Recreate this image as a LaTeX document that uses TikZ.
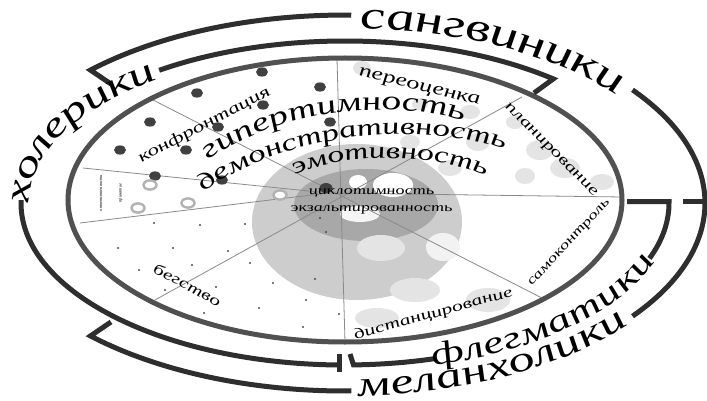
\documentclass[tikz,border=0pt]{standalone}
\usepackage{fontspec}
\setmainfont{Liberation Serif}
\newfontfamily\decofam{Liberation Serif}[FakeStretch=1.45, ItalicFeatures={FakeSlant=-0.18}]
\newcommand{\dec}[1]{\decofam\itshape\fontsize{#1}{#1}\selectfont}
\usetikzlibrary{decorations.text}
\definecolor{ringc}{HTML}{505050}
\definecolor{brk}{HTML}{2E2E2E}
\definecolor{linec}{HTML}{8A8A8A}
\definecolor{dotc}{HTML}{404040}
\definecolor{lg}{HTML}{CDCDCD}
\definecolor{mg}{HTML}{A8A8A8}
\definecolor{bub}{HTML}{E4E4E4}
\tikzset{
  bracket/.style={brk, line width=5pt},
  sector/.style={linec, line width=0.8pt},
  bigdot/.style={fill=dotc},
  donut/.style={draw=gray!60, line width=2.4pt, fill=white},
  smalldot/.style={fill=black!70},
  bubble/.style={fill=bub},
  curvetext/.style={decorate, decoration={text along path, text align=center, raise=#1}},
}
\begin{document}
\begin{tikzpicture}[x=1pt,y=-1pt]
\useasboundingbox (0,0) rectangle (707,401);
\fill[white] (0,0) rectangle (707,401);

% light bubbles in the upper right
\foreach \p/\a/\b in {(362,68)/9/7,(420,104)/8/6,(470,112)/10/7,(515,122)/9/7,(478,142)/12/9,
  (540,150)/14/10,(525,176)/10/8,(565,168)/15/10,(602,182)/12/8,(410,142)/10/7,(450,168)/12/8}
  \fill[bubble] \p ellipse[x radius=\a, y radius=\b];

% central discs
\fill[lg] (357,222) ellipse[x radius=105, y radius=78];
\fill[mg] (366,205) ellipse[x radius=72, y radius=36];
\fill[white] (393,185) ellipse[x radius=20, y radius=12];
\fill[white] (358,182) ellipse[x radius=9, y radius=7];
\fill[white!92!gray] (360,214) ellipse[x radius=20, y radius=8];
\fill[white!90!gray] (443,247) ellipse[x radius=17, y radius=14];
\foreach \p/\a/\b in {(381,248)/24/13,(415,290)/25/12,(488,300)/22/12,(377,318)/22/10}
  \fill[bubble] \p ellipse[x radius=\a, y radius=\b];

% sector lines
\coordinate (C) at (328,193);
\draw[sector] (C) -- (83,168);
\draw[sector] (C) -- (80,223);
\draw[sector] (C) -- (622,197);
\draw[sector] (153,100) -- (542,298);
\draw[sector] (155,300) -- (522,97);
\draw[sector] (337,59) -- (345,342);

% dark dots
\foreach \p in {(262,72),(197,93),(320,87),(263,105),(150,122),(218,127),(120,150),
  (186,150),(155,176),(222,180),(330,122)}
  \fill[bigdot] \p ellipse[x radius=6, y radius=4.6];
\fill[bigdot] (326,188) ellipse[x radius=6.5, y radius=5];
% donuts
\foreach \p in {(150,185),(138,208),(188,203),(280,195)}
  \draw[donut] \p ellipse[x radius=6.5, y radius=4.6];
% small dots
\foreach \p in {(154,223),(200,225),(245,224),(118,248),(173,248),(228,251),(139,270),(192,265),
  (250,263),(165,290),(216,287),(273,283),(315,279),(204,313),(259,308),(306,300),(339,314),
  (303,327),(248,333),(339,342),(326,232),(320,218)}
  \fill[smalldot] \p circle[radius=1.2];

% main ring
\draw[ringc, line width=5pt] (345,200) ellipse[x radius=277, y radius=142];

% brackets: sanguine (outer)
\draw[bracket] (111,84) -- (90.4,70.1) arc[start angle=225, end angle=271, x radius=360, y radius=188];
\draw[bracket] (632.5,89.9) arc[start angle=-37, end angle=37, x radius=360, y radius=188];
\draw[bracket] (683,201) -- (707,201);
% melancholic
\draw[bracket] (345,203) ++(89:360 and 188) arc[start angle=89, end angle=135, x radius=360, y radius=188] -- (111,322);
% choleric
\draw[bracket] (534,93) -- (553.3,78.9) arc[start angle=-50, end angle=-125, x radius=324, y radius=162];
\draw[bracket] (21.05,200.2) arc[start angle=181, end angle=91, x radius=324, y radius=162];
\draw[bracket] (339.3,354) -- (339.3,372);
% phlegmatic
\draw[bracket] (627,201.6) -- (669,201.6) arc[start angle=-0.5, end angle=20, x radius=324, y radius=162];
\draw[bracket] (434.3,358.7) arc[start angle=74, end angle=88.5, x radius=324, y radius=162] -- (350,354);

% bracket labels
\path[curvetext=-13pt, decoration={text={|\dec{40}|сангвиники}}]
  (345,203) ++(-88:360 and 188) arc[start angle=-88, end angle=-38, x radius=360, y radius=188];
\path[curvetext=-8pt, decoration={text={|\dec{36}|холерики}}]
  (345,203) ++(183:324 and 162) arc[start angle=183, end angle=233, x radius=324, y radius=162];
\path[curvetext=-7pt, decoration={text={|\dec{32}|флегматики}}]
  (345,203) ++(73:324 and 162) arc[start angle=73, end angle=21, x radius=324, y radius=162];
\path[curvetext=-5pt, decoration={text={|\dec{36}|меланхолики}}]
  (345,203) ++(88:360 and 188) arc[start angle=88, end angle=38, x radius=360, y radius=188];

% inner curved labels
\path[curvetext=0pt, decoration={text={|\dec{27}|гипертимность}}]
  (206,162) .. controls (270,115) and (380,95) .. (468,122);
\path[curvetext=0pt, decoration={text={|\dec{24}|демонстративность}}]
  (203,193) .. controls (270,142) and (400,115) .. (507,150);
\path[curvetext=0pt, decoration={text={|\dec{23}|эмотивность}}]
  (290,178) .. controls (330,154) and (430,150) .. (492,178);

% straight labels
\node (cyc) at (372,193) {\dec{12.5}циклотимность};
\node (exa) at (372,210) {\dec{12.5}экзальтированность};
\node[rotate=-13.5] (per) at (420,88) {\dec{18}переоценка};
\node[rotate=-45] (plan) at (551,151) {\dec{15}планирование};
\node[rotate=47] (self) at (570,243) {\dec{13}самоконтроль};
\node[rotate=15.5] (dist) at (434,314) {\dec{15}дистанцирование};
\node[rotate=27.7] (conf) at (205,125) {\dec{16}конфронтация};
\node[rotate=-28] (esc) at (188,285) {\dec{15}бегство};
\node[rotate=90] (resp1) at (101,193) {\fontsize{4.5}{4.5}\selectfont\itshape ответственности};
\node[rotate=90] (resp2) at (121,193) {\fontsize{4.5}{4.5}\selectfont\itshape принятие};
\end{tikzpicture}
\end{document}
